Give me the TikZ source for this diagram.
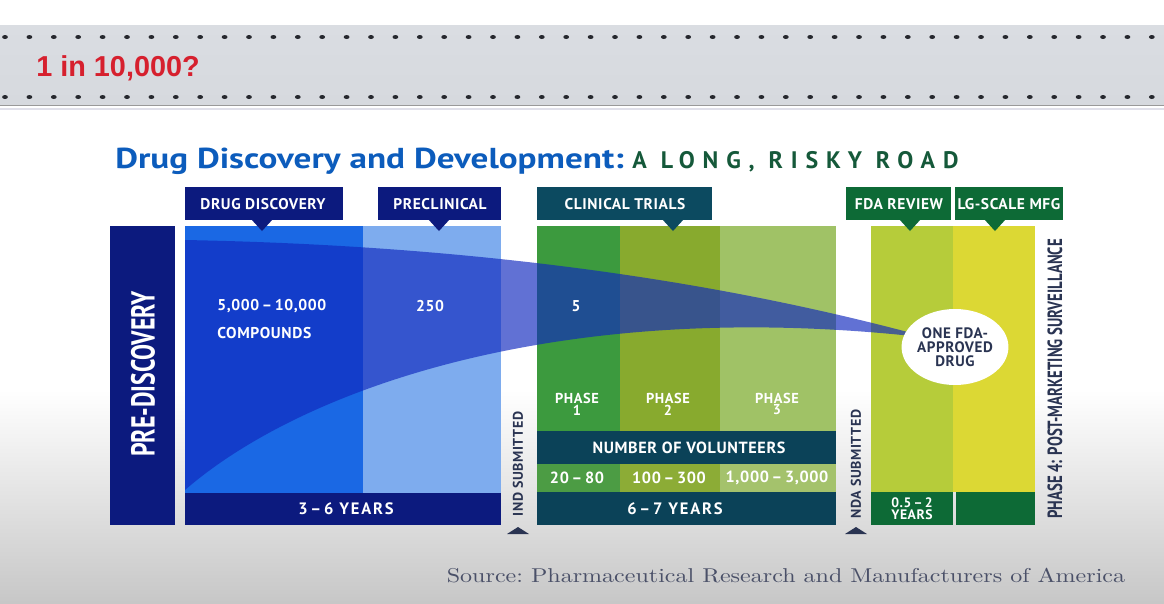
\documentclass[tikz,border=0pt]{standalone}
\usepackage{fontspec}
\setmainfont{PT Sans}
\usetikzlibrary{shapes.geometric}
\newfontfamily\labf[LetterSpace=4.0]{PT Sans}
\newfontfamily\yrsf[LetterSpace=11.0]{PT Sans}
\newfontfamily\condf[FakeStretch=0.72]{PT Sans}
\newfontfamily\titlef[FakeStretch=1.22]{PT Sans}
\newfontfamily\widef[LetterSpace=33.0]{PT Sans}
\newfontfamily\arialf{Liberation Sans}
\newfontfamily\srcf[FakeStretch=1.2]{lmroman10-regular.otf}
\newcommand\fsz[1]{\fontsize{#1}{#1}\selectfont}
\definecolor{navy}{HTML}{0C1A7E}
\definecolor{ddcol}{HTML}{1A68E4}
\definecolor{precol}{HTML}{7EACEE}
\definecolor{tealc}{HTML}{0B4258}
\definecolor{tlab}{HTML}{0C4A60}
\definecolor{phA}{HTML}{3C9A3E}
\definecolor{phB}{HTML}{88AA2E}
\definecolor{phC}{HTML}{A0C266}
\definecolor{cnA}{HTML}{4C9C44}
\definecolor{cnB}{HTML}{8CAC36}
\definecolor{cnC}{HTML}{A4C26C}
\definecolor{fdac}{HTML}{B6CC3A}
\definecolor{lgmc}{HTML}{DCD834}
\definecolor{dgreen}{HTML}{0D6A36}
\definecolor{titleblue}{HTML}{0C5CBC}
\definecolor{roadgreen}{HTML}{15593A}
\definecolor{slate}{HTML}{2A3452}
\definecolor{redc}{HTML}{D6202E}
\definecolor{funnelc}{HTML}{1028BE}
\definecolor{dotc}{HTML}{26282E}
\definecolor{srcc}{HTML}{4A5068}
\definecolor{banA}{HTML}{DADDE2}
\definecolor{banB}{HTML}{EDEEF1}
\definecolor{banC}{HTML}{D6D9DE}
\begin{document}
\begin{tikzpicture}[x=0.02cm,y=-0.02cm,
  lbl/.style={font=\labf\bfseries\fsz{8.8}, text=white, inner sep=0pt},
  num/.style={font=\labf\bfseries\fsz{8.9}, text=white, inner sep=0pt},
  yrs/.style={font=\yrsf\bfseries\fsz{9.4}, text=white, inner sep=0pt},
  vert/.style={font=\labf\bfseries\fsz{8.0}, text=slate, rotate=90, inner sep=0pt},
  phase/.style={font=\labf\bfseries\fsz{8.2}, text=white, align=center, inner sep=0pt}]
\useasboundingbox (0,0) rectangle (1164,603);
% background
\fill[white] (0,0) rectangle (1164,603);
\shade[top color=white, bottom color=black!22] (0,390) rectangle (1164,603);
% banner
\shade[top color=banA, middle color=banB, bottom color=banC] (0,25) rectangle (1164,105);
\draw[black!40, line width=0.6pt] (0,105.5) -- (1164,105.5);
\draw[blue!30!black!12, line width=0.8pt] (0,109) -- (1164,109);
\foreach \i in {0,...,47} {
  \fill[dotc] (5+24.4*\i,37) ellipse [x radius=2.9, y radius=2.0];
  \fill[dotc] (5+24.4*\i,97) ellipse [x radius=2.9, y radius=2.0];
}
\node[font=\arialf\bfseries\fsz{16.4}, text=redc, anchor=west, inner sep=0pt] (ban) at (36,68) {1 in 10,000?};
% title
\node[anchor=base west, font=\titlef\bfseries\fsz{16.4}, text=titleblue, inner sep=0pt] (title) at (115,168) {Drug Discovery and Development:};
\node[anchor=base west, font=\widef\bfseries\fsz{13.6}, text=roadgreen, inner sep=0pt, xshift=0.16cm] (road) at (title.base east) {A LONG, RISKY ROAD};
% pre-discovery
\fill[navy] (110,226) rectangle (175,525);
\node[font=\condf\bfseries\fsz{18.9}, text=white, rotate=90, inner sep=0pt] (pre) at (143,374) {PRE-DISCOVERY};
% blue columns
\fill[ddcol] (185,226) rectangle (363,493);
\fill[precol] (363,226) rectangle (501,493);
\fill[navy] (185,493) rectangle (501,525);
% green columns
\fill[phA] (537,226) rectangle (620,431);
\fill[phB] (620,226) rectangle (720,431);
\fill[phC] (720,226) rectangle (836,431);
\fill[tealc] (537,431) rectangle (836,464);
\fill[cnA] (537,464) rectangle (620,492);
\fill[cnB] (620,464) rectangle (720,492);
\fill[cnC] (720,464) rectangle (836,492);
\fill[tealc] (537,492) rectangle (836,525);
% fda columns
\fill[fdac] (871,226) rectangle (953,492);
\fill[lgmc] (953,226) rectangle (1035,492);
\fill[dgreen] (871,492) rectangle (953,525);
\fill[dgreen] (956,492) rectangle (1035,525);
% funnel
\fill[funnelc, opacity=0.66] (185,240) .. controls (450,245) and (700,275) .. (930,338)
   .. controls (560,295) and (300,390) .. (185,490) -- cycle;
% labels with pointers
\fill[navy] (185,187) rectangle (343,220);
\fill[navy] (251,219) -- (273,219) -- (262,231) -- cycle;
\node[lbl] (ldd) at (263,204) {DRUG DISCOVERY};
\fill[navy] (378,187) rectangle (501,220);
\fill[navy] (428,219) -- (450,219) -- (439,231) -- cycle;
\node[lbl] (lpc) at (440,204) {PRECLINICAL};
\fill[tlab] (537,187) rectangle (712,220);
\fill[tlab] (662,219) -- (684,219) -- (673,231) -- cycle;
\node[lbl] (lct) at (625,204) {CLINICAL TRIALS};
\fill[dgreen] (846,187) rectangle (951,220);
\fill[dgreen] (899,219) -- (921,219) -- (910,231) -- cycle;
\node[lbl] (lfda) at (899,204) {FDA REVIEW};
\fill[dgreen] (955,187) rectangle (1063,220);
\fill[dgreen] (984,219) -- (1006,219) -- (995,231) -- cycle;
\node[lbl] (llg) at (1009,204) {LG-SCALE MFG};
% numbers
\node[num, anchor=west] (n1) at (217,306) {5,000\,–\,10,000};
\node[num, anchor=west] (n2) at (217,333) {COMPOUNDS};
\node[num] (n3) at (430,306) {250};
\node[num] (n4) at (576,306) {5};
\node[yrs] (y1) at (346,509) {3\,–\,6 YEARS};
\node[phase] (p1) at (577,404) {PHASE\\[-1.5pt]1};
\node[phase] (p2) at (668,404) {PHASE\\[-1.5pt]2};
\node[phase] (p3) at (777,404) {PHASE\\[-1.5pt]3};
\node[lbl, font=\labf\bfseries\fsz{9.2}] (vol) at (689,448) {NUMBER OF VOLUNTEERS};
\node[num, font=\labf\bfseries\fsz{9.2}] (c1) at (577,478) {20\,–\,80};
\node[num, font=\labf\bfseries\fsz{9.2}] (c2) at (669,478) {100\,–\,300};
\node[num, font=\labf\bfseries\fsz{9.2}] (c3) at (777,478) {1,000\,–\,3,000};
\node[yrs] (y2) at (675,509) {6\,–\,7 YEARS};
\node[text=white, inner sep=0pt, align=center, font=\labf\bfseries\fontsize{7.8}{6.9}\selectfont] (y3) at (912,509) {0.5\,–\,2\\YEARS};
% submitted markers
\node[vert] (ind) at (518,464) {IND SUBMITTED};
\fill[slate] (507,534) -- (529,534) -- (518,527) -- cycle;
\node[vert] (nda) at (856,464) {NDA SUBMITTED};
\fill[slate] (845,534) -- (867,534) -- (856,527) -- cycle;
\node[font=\condf\bfseries\fsz{11.7}, text=slate, rotate=90, inner sep=0pt] (ph4) at (1055,379) {PHASE 4: POST-MARKETING SURVEILLANCE};
% ellipse
\node[ellipse, fill=white, minimum width=1.92cm, minimum height=1.52cm, inner sep=0pt,
      font=\labf\bfseries\fsz{8.6}, text=slate, align=center] (drug) at (955,347)
      {ONE FDA-\\[-0.5pt]APPROVED\\[-0.5pt]DRUG};
% source
\node[anchor=base, font=\srcf\frenchspacing\fsz{11.4}, text=srcc, inner sep=0pt] (src) at (786,582) {Source: Pharmaceutical Research and Manufacturers of America};
\end{tikzpicture}
\end{document}
